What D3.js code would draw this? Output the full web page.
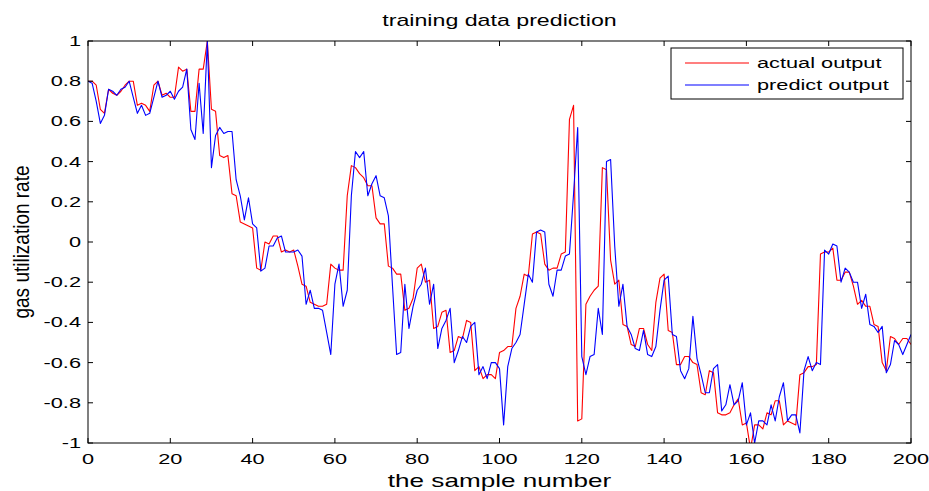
<!DOCTYPE html>
<html><head><meta charset="utf-8">
<script src="https://cdn.jsdelivr.net/npm/d3@7"></script>
<style>body{margin:0;background:#fff;} svg{display:block;}</style>
</head><body>
<svg id="chart" width="929" height="491"></svg>
<script>
// ---- data ----
const titleText = "training data prediction";
const xLabelText = "the sample number";
const yLabelText = "gas utilization rate";
const legendLabels = ["actual output", "predict output"];
const seriesColors = ["#ff0000", "#0000ff"];
const xTicks = [0, 20, 40, 60, 80, 100, 120, 140, 160, 180, 200];
const yTicks = [-1, -0.8, -0.6, -0.4, -0.2, 0, 0.2, 0.4, 0.6, 0.8, 1];
const yTickLabels = ["-1", "-0.8", "-0.6", "-0.4", "-0.2", "0", "0.2", "0.4", "0.6", "0.8", "1"];

const actualOutput = [
  0.80, 0.80, 0.78, 0.66, 0.64, 0.76, 0.74, 0.73, 0.75, 0.78,
  0.80, 0.80, 0.68, 0.69, 0.68, 0.65, 0.78, 0.80, 0.73, 0.74,
  0.72, 0.72, 0.87, 0.85, 0.86, 0.65, 0.65, 0.86, 0.86, 1.00,
  0.66, 0.65, 0.43, 0.42, 0.43, 0.24, 0.23, 0.10, 0.09, 0.08,
  0.07, -0.13, -0.14, 0.00, -0.01, 0.03, 0.03, -0.05, -0.04, -0.05,
  -0.04, -0.12, -0.21, -0.22, -0.30, -0.31, -0.32, -0.32, -0.31, -0.11,
  -0.13, -0.14, -0.14, 0.23, 0.38, 0.37, 0.34, 0.32, 0.28, 0.28,
  0.12, 0.09, 0.09, -0.12, -0.13, -0.16, -0.16, -0.34, -0.33, -0.28,
  -0.13, -0.11, -0.20, -0.19, -0.43, -0.42, -0.35, -0.34, -0.55, -0.54,
  -0.47, -0.48, -0.39, -0.40, -0.64, -0.62, -0.68, -0.66, -0.66, -0.68,
  -0.55, -0.54, -0.52, -0.52, -0.33, -0.27, -0.16, -0.17, 0.04, 0.05,
  0.04, -0.11, -0.14, -0.13, -0.13, -0.06, -0.05, 0.61, 0.68, -0.89,
  -0.88, -0.31, -0.27, -0.24, -0.22, 0.37, 0.36, -0.09, -0.21, -0.19,
  -0.41, -0.42, -0.51, -0.52, -0.43, -0.43, -0.51, -0.54, -0.30, -0.18,
  -0.16, -0.44, -0.45, -0.61, -0.61, -0.57, -0.57, -0.60, -0.61, -0.75,
  -0.76, -0.64, -0.65, -0.85, -0.86, -0.86, -0.85, -0.81, -0.78, -0.91,
  -0.90, -1.03, -0.91, -0.91, -0.93, -0.85, -0.86, -0.79, -0.79, -0.91,
  -0.89, -0.90, -0.91, -0.66, -0.65, -0.62, -0.62, -0.61, -0.06, -0.05,
  -0.05, -0.03, -0.19, -0.19, -0.15, -0.15, -0.22, -0.31, -0.29, -0.32,
  -0.32, -0.41, -0.42, -0.60, -0.64, -0.47, -0.48, -0.51, -0.48, -0.48,
  -0.51
];

const predictOutput = [
  0.80, 0.79, 0.70, 0.59, 0.63, 0.76, 0.75, 0.73, 0.76, 0.77,
  0.80, 0.72, 0.64, 0.68, 0.63, 0.64, 0.72, 0.80, 0.72, 0.73,
  0.75, 0.71, 0.75, 0.77, 0.86, 0.56, 0.51, 0.79, 0.54, 1.00,
  0.37, 0.53, 0.57, 0.54, 0.55, 0.55, 0.31, 0.23, 0.11, 0.22,
  0.09, 0.07, -0.145, -0.13, -0.02, -0.02, 0.02, 0.03, -0.05, -0.05,
  -0.05, -0.04, -0.07, -0.31, -0.24, -0.33, -0.33, -0.34, -0.45, -0.56,
  -0.21, -0.11, -0.32, -0.24, 0.23, 0.45, 0.42, 0.45, 0.23, 0.29,
  0.33, 0.23, 0.22, 0.13, -0.22, -0.56, -0.55, -0.21, -0.43, -0.32,
  -0.24, -0.21, -0.13, -0.31, -0.21, -0.53, -0.43, -0.39, -0.33, -0.60,
  -0.54, -0.47, -0.50, -0.42, -0.40, -0.66, -0.62, -0.68, -0.60, -0.60,
  -0.63, -0.91, -0.62, -0.53, -0.50, -0.46, -0.31, -0.16, -0.20, 0.05,
  0.06, 0.05, -0.21, -0.27, -0.14, -0.14, -0.07, -0.06, 0.24, 0.57,
  -0.57, -0.66, -0.57, -0.56, -0.33, -0.46, 0.40, 0.41, -0.02, -0.32,
  -0.21, -0.42, -0.46, -0.53, -0.54, -0.44, -0.56, -0.57, -0.52, -0.34,
  -0.19, -0.17, -0.46, -0.47, -0.64, -0.68, -0.63, -0.37, -0.58, -0.66,
  -0.75, -0.75, -0.63, -0.61, -0.84, -0.81, -0.71, -0.81, -0.79, -0.70,
  -0.91, -0.85, -1.00, -0.89, -0.89, -0.91, -0.81, -0.89, -0.77, -0.70,
  -0.89, -0.86, -0.86, -0.95, -0.64, -0.57, -0.64, -0.60, -0.61, -0.04,
  -0.06, -0.01, -0.02, -0.20, -0.13, -0.15, -0.20, -0.20, -0.33, -0.26,
  -0.41, -0.42, -0.45, -0.42, -0.65, -0.61, -0.49, -0.51, -0.56, -0.51,
  -0.46
];

// ---- layout ----
const W = 929, H = 491;
const plot = {left: 88, right: 911, top: 41, bottom: 443};
const SX = 1.45;           // horizontal stretch of the original figure's text
const FONT = "'Liberation Sans', Arial, sans-serif";

const svg = d3.select("#chart");
svg.append("rect").attr("width", W).attr("height", H).attr("fill", "#fff");

const x = d3.scaleLinear().domain([0, 200]).range([plot.left, plot.right]);
const y = d3.scaleLinear().domain([-1, 1]).range([plot.bottom, plot.top]);

function stretchedText(g, tx, ty, str, size, anchor) {
  return g.append("text")
    .attr("transform", `translate(${tx},${ty}) scale(${SX},1)`)
    .attr("text-anchor", anchor || "middle")
    .attr("font-family", FONT)
    .attr("font-size", size)
    .attr("fill", "#000")
    .text(str);
}

// clip
svg.append("defs").append("clipPath").attr("id", "clip")
  .append("rect").attr("x", plot.left).attr("y", plot.top)
  .attr("width", plot.right - plot.left).attr("height", plot.bottom - plot.top);

// series
const samples = d3.range(actualOutput.length);
const line = d3.line().x(i => x(i));
const lines = svg.append("g").attr("clip-path", "url(#clip)");
[actualOutput, predictOutput].forEach((ser, k) => {
  lines.append("path")
    .datum(samples)
    .attr("fill", "none")
    .attr("stroke", seriesColors[k])
    .attr("stroke-width", 1.1)
    .attr("stroke-linejoin", "round")
    .attr("d", line.y(i => y(ser[i])));
});

// axes (box with inward ticks on all sides)
const tickLen = 5;
const axG = svg.append("g").attr("stroke", "#000").attr("stroke-width", 1).attr("fill", "none");
axG.append("rect").attr("x", plot.left).attr("y", plot.top)
  .attr("width", plot.right - plot.left).attr("height", plot.bottom - plot.top);
xTicks.forEach(t => {
  axG.append("line").attr("x1", x(t)).attr("x2", x(t)).attr("y1", plot.bottom).attr("y2", plot.bottom - tickLen);
  axG.append("line").attr("x1", x(t)).attr("x2", x(t)).attr("y1", plot.top).attr("y2", plot.top + tickLen);
});
yTicks.forEach(t => {
  axG.append("line").attr("x1", plot.left).attr("x2", plot.left + tickLen).attr("y1", y(t)).attr("y2", y(t));
  axG.append("line").attr("x1", plot.right).attr("x2", plot.right - tickLen).attr("y1", y(t)).attr("y2", y(t));
});

const txt = svg.append("g");
xTicks.forEach(t => stretchedText(txt, x(t), plot.bottom + 21, String(t), 15, "middle"));
yTicks.forEach((t, i) => stretchedText(txt, plot.left - 7, y(t) + 5, yTickLabels[i], 15, "end"));

// title & labels
stretchedText(txt, (plot.left + plot.right) / 2, 26, titleText, 16, "middle");
stretchedText(txt, (plot.left + plot.right) / 2, 487, xLabelText, 18, "middle");
txt.append("text")
  .attr("transform", `translate(29,${(plot.top + plot.bottom) / 2}) scale(1.2,1) rotate(-90)`)
  .attr("text-anchor", "middle")
  .attr("font-family", FONT)
  .attr("font-size", 19)
  .text(yLabelText);

// legend
const lg = svg.append("g");
lg.append("rect").attr("x", 671).attr("y", 48).attr("width", 232).attr("height", 51)
  .attr("fill", "#fff").attr("stroke", "#000").attr("stroke-width", 1);
[0, 1].forEach(k => {
  const ly = 63 + k * 22;
  lg.append("line").attr("x1", 685).attr("x2", 749).attr("y1", ly).attr("y2", ly)
    .attr("stroke", seriesColors[k]).attr("stroke-width", 1.1);
  stretchedText(lg, 757, ly + 5, legendLabels[k], 15, "start");
});
</script>
</body></html>
